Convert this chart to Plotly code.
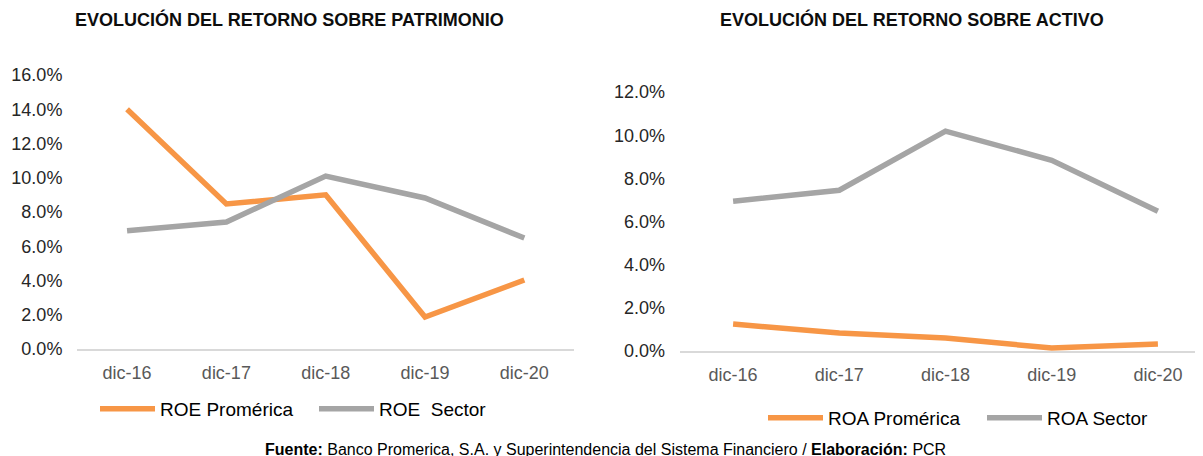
import plotly.graph_objects as go

# data
periodos = ["dic-16", "dic-17", "dic-18", "dic-19", "dic-20"]
roe_promerica = [0.140, 0.0847, 0.090, 0.0187, 0.0403]
roe_sector = [0.0690, 0.0742, 0.1010, 0.0882, 0.0648]
roa_promerica = [0.0125, 0.0083, 0.0060, 0.0014, 0.0032]
roa_sector = [0.0694, 0.0745, 0.1019, 0.0884, 0.0648]
y_ticks_roe = [0, 0.02, 0.04, 0.06, 0.08, 0.10, 0.12, 0.14, 0.16]
y_ticks_roa = [0, 0.02, 0.04, 0.06, 0.08, 0.10, 0.12]

ORANGE = "#F79646"
GRAY = "#A5A5A5"
FONT = "Liberation Sans, Arial, sans-serif"
W, H = 1203, 456
OFF = 8  # page body margin


def px(x):
    return (x - OFF) / W


def py(y):
    return 1 - (y - OFF) / H


fig = go.Figure()

fig.add_trace(go.Scatter(x=periodos, y=roe_promerica, mode="lines", name="ROE Promérica",
                         line=dict(color=ORANGE, width=5.5), xaxis="x", yaxis="y", legend="legend"))
fig.add_trace(go.Scatter(x=periodos, y=roe_sector, mode="lines", name="ROE  Sector",
                         line=dict(color=GRAY, width=5.5), xaxis="x", yaxis="y", legend="legend"))
fig.add_trace(go.Scatter(x=periodos, y=roa_promerica, mode="lines", name="ROA Promérica",
                         line=dict(color=ORANGE, width=5.5), xaxis="x2", yaxis="y2", legend="legend2"))
fig.add_trace(go.Scatter(x=periodos, y=roa_sector, mode="lines", name="ROA Sector",
                         line=dict(color=GRAY, width=5.5), xaxis="x2", yaxis="y2", legend="legend2"))

xaxis_common = dict(
    type="category", showgrid=False, zeroline=False, showline=True, automargin=False,
    linecolor="#D9D9D9", linewidth=1.5, ticks="",
    tickfont=dict(size=18, color="#595959", family=FONT), ticklabelstandoff=7,
)
yaxis_common = dict(
    showgrid=False, zeroline=False, showline=False, tickformat=".1%", automargin=False,
    tickfont=dict(size=18, color="#262626", family=FONT), ticklabelstandoff=14,
)
legend_common = dict(
    orientation="h", xanchor="left", yanchor="middle", itemwidth=55,
    entrywidth=149, entrywidthmode="pixels",
    font=dict(size=19, color="#000000", family=FONT), bgcolor="rgba(0,0,0,0)",
)

fig.update_layout(
    width=W, height=H,
    margin=dict(l=0, r=0, t=0, b=0, autoexpand=False),
    paper_bgcolor="white", plot_bgcolor="white",
    font=dict(family=FONT, color="#000000"),
    xaxis=dict(domain=[px(77.4), px(574)], range=[-0.5, 4.5], anchor="y", **xaxis_common),
    yaxis=dict(domain=[py(349), py(75)], range=[0, 0.16], tickvals=y_ticks_roe, anchor="x", **yaxis_common),
    xaxis2=dict(domain=[px(680), 1.0], range=[-0.5, 4.5], anchor="y2", **xaxis_common),
    yaxis2=dict(domain=[py(351), py(68.3)], range=[0, 0.131], tickvals=y_ticks_roa, anchor="x2", **yaxis_common),
    legend=dict(x=px(95), y=py(409), **legend_common),
    legend2=dict(x=px(763), y=py(418), **legend_common),
    showlegend=True,
)

fig.add_annotation(text="<b>EVOLUCIÓN DEL RETORNO SOBRE PATRIMONIO</b>", xref="paper", yref="paper",
                   x=px(289), y=py(20), xanchor="center", yanchor="middle", showarrow=False,
                   font=dict(size=18, color="#0D0D0D", family=FONT))
fig.add_annotation(text="<b>EVOLUCIÓN DEL RETORNO SOBRE ACTIVO</b>", xref="paper", yref="paper",
                   x=px(912), y=py(20), xanchor="center", yanchor="middle", showarrow=False,
                   font=dict(size=18, color="#0D0D0D", family=FONT))
fig.add_annotation(text="<b>Fuente:</b> Banco Promerica, S.A. y Superintendencia del Sistema Financiero / <b>Elaboración:</b> PCR",
                   xref="paper", yref="paper", x=px(605), y=py(449), xanchor="center", yanchor="middle",
                   showarrow=False, font=dict(size=16, color="#000000", family=FONT))

fig.write_html("out.html")
